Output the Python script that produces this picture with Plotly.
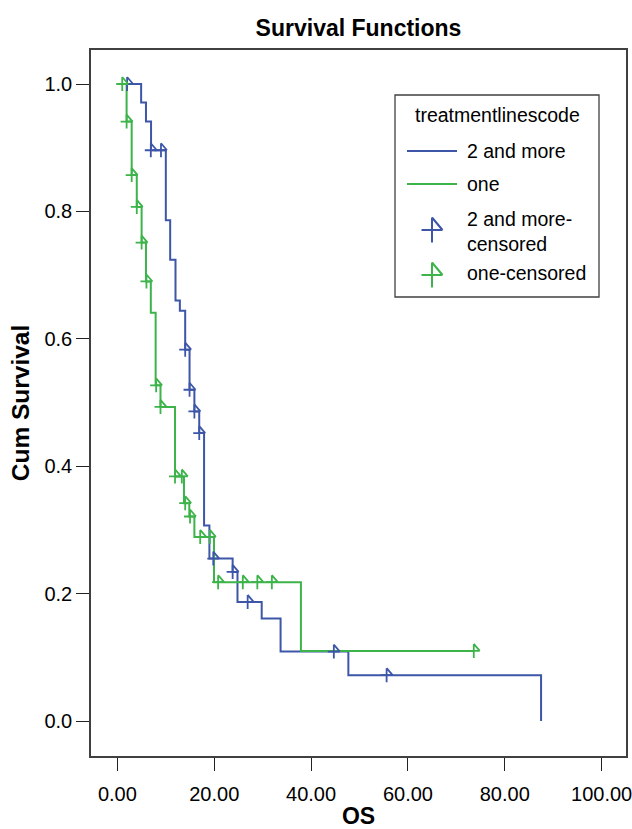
import plotly.graph_objects as go

# ---------------- data ----------------
group_names = ["2 and more", "one"]
legend_title = "treatmentlinescode"

# Kaplan-Meier step points: group "2 and more"
more_times = [2.0, 4.9, 5.9, 6.95, 10.0, 10.9, 12.0, 12.9, 14.0, 14.9, 15.9, 16.9,
              17.9, 19.0, 23.8, 24.8, 29.8, 33.7, 47.7, 87.5]
more_surv = [1.0, 0.971, 0.941, 0.896, 0.786, 0.724, 0.660, 0.644, 0.583, 0.520, 0.486,
             0.452, 0.307, 0.255, 0.234, 0.187, 0.161, 0.109, 0.072, 0.0]
# censored observations: group "2 and more"
more_cens_times = [2.0, 6.9, 9.0, 14.0, 14.9, 15.9, 16.9, 19.8, 23.8, 26.9, 44.7, 55.6]
more_cens_surv = [1.0, 0.896, 0.896, 0.583, 0.520, 0.486, 0.452, 0.255, 0.234, 0.187,
                  0.109, 0.072]

# Kaplan-Meier step points: group "one"
one_times = [1.0, 1.9, 2.95, 4.0, 5.0, 5.9, 6.9, 7.9, 8.9, 11.9, 13.75, 14.85, 15.9,
             19.95, 37.9, 73.6]
one_surv = [1.0, 0.941, 0.857, 0.807, 0.751, 0.690, 0.641, 0.527, 0.493, 0.384, 0.342,
            0.321, 0.289, 0.218, 0.110, 0.110]
# censored observations: group "one"
one_cens_times = [1.0, 1.9, 2.95, 4.0, 5.0, 6.0, 8.0, 8.9, 11.9, 13.3, 14.0, 15.0, 17.1,
                  19.1, 20.8, 25.9, 28.9, 31.9, 73.6]
one_cens_surv = [1.0, 0.941, 0.857, 0.807, 0.751, 0.690, 0.527, 0.493, 0.384, 0.384,
                 0.342, 0.321, 0.289, 0.289, 0.218, 0.218, 0.218, 0.218, 0.110]

x_tick_vals = [0, 20, 40, 60, 80, 100]
y_tick_vals = [0.0, 0.2, 0.4, 0.6, 0.8, 1.0]

# ---------------- styling ----------------
BLUE = "#3d56a8"
GREEN = "#3cb44a"
FONT = "Liberation Sans, Arial, sans-serif"
FRAME = "#404040"

W, H = 632, 829
ML, MR, MT, MB = 91, 6, 50, 73
PW = W - ML - MR
PH = H - MT - MB


def censor_path(dx=0.0, dy=0.0, v=7.0, h=6.0):
    """cross with a flag (pixel units, y up) centred at (dx, dy)."""
    return (f"M{dx},{dy - v}V{dy + v}"
            f"M{dx - h},{dy}H{dx + h}"
            f"M{dx},{dy + v}L{dx + h},{dy}")


fig = go.Figure()

series = [
    (group_names[0], more_times, more_surv, more_cens_times, more_cens_surv, BLUE),
    (group_names[1], one_times, one_surv, one_cens_times, one_cens_surv, GREEN),
]

shapes = []
for name, t, s, ct, cs, col in series:
    fig.add_trace(go.Scatter(
        x=t, y=s, mode="lines", name=name,
        line=dict(shape="hv", color=col, width=2),
        showlegend=False, hoverinfo="skip"))
    # censored marks, placed through the data axes
    fig.add_trace(go.Scatter(
        x=ct, y=cs, mode="markers", name=name + "-censored",
        marker=dict(size=1, color="rgba(0,0,0,0)"),
        showlegend=False, hoverinfo="skip"))
    for xi, yi in zip(ct, cs):
        shapes.append(dict(
            type="path", xref="x", yref="y",
            xsizemode="pixel", ysizemode="pixel",
            xanchor=xi, yanchor=yi,
            path=censor_path(), line=dict(color=col, width=1.8),
            layer="above"))

# ---------------- hand-drawn legend (pixel offsets from top-left of plot) -------
LG = dict(xref="paper", yref="paper", xsizemode="pixel", ysizemode="pixel",
          xanchor=0, yanchor=1)

box_l, box_t, box_r, box_b = 395 - ML, -(95 - MT), 599 - ML, -(297 - MT)
shapes.append(dict(type="rect", **LG, x0=box_l, x1=box_r, y0=box_t, y1=box_b,
                   line=dict(color=FRAME, width=1.3), fillcolor="white", layer="above"))

line_rows = [(BLUE, 151), (GREEN, 184)]
for col, yc in line_rows:
    shapes.append(dict(type="line", **LG, x0=407 - ML, x1=457 - ML,
                       y0=-(yc - MT), y1=-(yc - MT),
                       line=dict(color=col, width=2), layer="above"))

marker_rows = [(BLUE, 230), (GREEN, 275)]
for col, yc in marker_rows:
    shapes.append(dict(type="path", **LG,
                       path=censor_path(432 - ML, -(yc - MT), v=12.5, h=10.5),
                       line=dict(color=col, width=2), layer="above"))

annotations = []


def add_text(text, x_px, y_px, anchor="left", align="left"):
    annotations.append(dict(
        text=text, xref="paper", yref="paper", x=0, y=1,
        xanchor=anchor, yanchor="middle", align=align,
        xshift=x_px - ML, yshift=-(y_px - MT),
        showarrow=False, font=dict(family=FONT, size=19.5, color="black")))


add_text(legend_title, 497, 115, anchor="center", align="center")
add_text(group_names[0], 465, 151)
add_text(group_names[1], 465, 184)
add_text(group_names[0] + "-<br>censored", 465, 231)
add_text(group_names[1] + "-censored", 465, 273)

# ---------------- axes & layout ----------------
x0_px, x_scale = 117.4, 4.842
y0_px, y_scale = 721.0, 637.0
x_range = [(ML - x0_px) / x_scale, (ML + PW - x0_px) / x_scale]
y_range = [(y0_px - (MT + PH)) / y_scale, (y0_px - MT) / y_scale]

fig.update_layout(
    width=W, height=H,
    margin=dict(l=ML, r=MR, t=MT, b=MB, autoexpand=False),
    paper_bgcolor="white", plot_bgcolor="white",
    showlegend=False,
    title=dict(text="<b>Survival Functions</b>", x=(ML + PW / 2) / W, xanchor="center",
               y=1 - 28 / H, yanchor="middle", yref="container",
               font=dict(family=FONT, size=23, color="black")),
    shapes=shapes,
    annotations=annotations,
    xaxis=dict(
        range=x_range, tickvals=x_tick_vals,
        ticktext=[f"{v:.2f}" for v in x_tick_vals],
        showgrid=False, zeroline=False,
        showline=True, mirror=True, linecolor=FRAME, linewidth=1.6,
        ticks="outside", ticklen=13, tickcolor="#222222", tickwidth=1.3,
        tickfont=dict(family=FONT, size=20, color="black"),
        ticklabelstandoff=6, ticklabeloverflow="allow",
        title=dict(text="<b>OS</b>", standoff=6,
                   font=dict(family=FONT, size=23, color="black")),
        fixedrange=True,
    ),
    yaxis=dict(
        range=y_range, tickvals=y_tick_vals,
        ticktext=[f"{v:.1f}" for v in y_tick_vals],
        showgrid=False, zeroline=False,
        showline=True, mirror=True, linecolor=FRAME, linewidth=1.6,
        ticks="outside", ticklen=13, tickcolor="#222222", tickwidth=1.3,
        tickfont=dict(family=FONT, size=20, color="black"),
        ticklabelstandoff=0, ticklabeloverflow="allow",
        title=dict(text="<b>Cum Survival</b>", standoff=8,
                   font=dict(family=FONT, size=24.5, color="black")),
        fixedrange=True,
    ),
)

fig.write_html(
    "out.html",
    config={"displayModeBar": False},
    post_script="document.body.style.margin='0px';document.body.style.overflow='hidden';",
)
